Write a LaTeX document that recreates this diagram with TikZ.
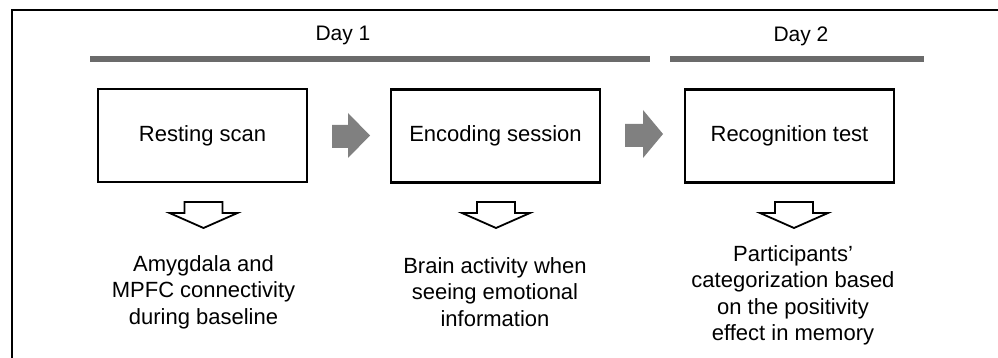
\documentclass[tikz,border=0pt]{standalone}
\usepackage{fontspec}
\setmainfont{Liberation Sans}
\begin{document}
\begin{tikzpicture}[x=1pt,y=-1pt,
  txt/.style={font=\fontsize{22}{26.5}\selectfont, inner sep=0pt, align=center},
  stagebox/.style={draw, line width=2.4pt, minimum width=209pt, minimum height=93pt, inner sep=0pt, font=\fontsize{22}{26.5}\selectfont},
  daybar/.style={line width=6pt, draw=black!58},
  grayarrow/.style={fill=black!50, draw=none},
  openarrow/.style={draw, line width=1.8pt, fill=white, line join=miter}
]
\useasboundingbox (0,0) rectangle (998,358);
% frame
\coordinate (ftl) at (12,10);
\coordinate (ftr) at (998,10);
\coordinate (fbl) at (12,358);
\draw[line width=2pt] (fbl) -- (ftl) -- (ftr);

% day bars and labels
\coordinate (b1a) at (90,59);
\coordinate (b1b) at (650,59);
\coordinate (b2a) at (670,59);
\coordinate (b2b) at (924,59);
\draw[daybar] (b1a) -- (b1b);
\draw[daybar] (b2a) -- (b2b);
\node[txt, font=\fontsize{21}{25}\selectfont] (day1) at (343,35) {Day 1};
\node[txt, font=\fontsize{21}{25}\selectfont] (day2) at (801,36) {Day 2};

% boxes
\node[stagebox] (rest) at (202.5,135.5) {Resting scan};
\node[stagebox] (enc) at (495.5,136) {Encoding session};
\node[stagebox] (rec) at (789.5,136) {Recognition test};

% gray arrows
\fill[grayarrow] (332,125) -- (348,125) -- (348,113) -- (370,135.5) -- (348,158) -- (348,148) -- (332,148) -- cycle;
\fill[grayarrow] (625,124) -- (643,124) -- (643,110) -- (663,134) -- (643,158) -- (643,147) -- (625,147) -- cycle;

% open down arrows
\foreach \c/\n in {203.5/da, 496/db, 794/dc}{
  \draw[openarrow] (\c-19,202) -- (\c+19,202) -- (\c+19,213) -- (\c+34,213) -- (\c,228) -- (\c-34,213) -- (\c-19,213) -- cycle;
}

% results
\node[txt] (r1) at (203.5,292) {Amygdala and\\MPFC connectivity\\during baseline};
\node[txt] (r2) at (495,292) {Brain activity when\\seeing emotional\\information};
\node[txt] (r3) at (793,295.5) {Participants'\\categorization based\\on the positivity\\effect in memory};
\end{tikzpicture}
\end{document}
